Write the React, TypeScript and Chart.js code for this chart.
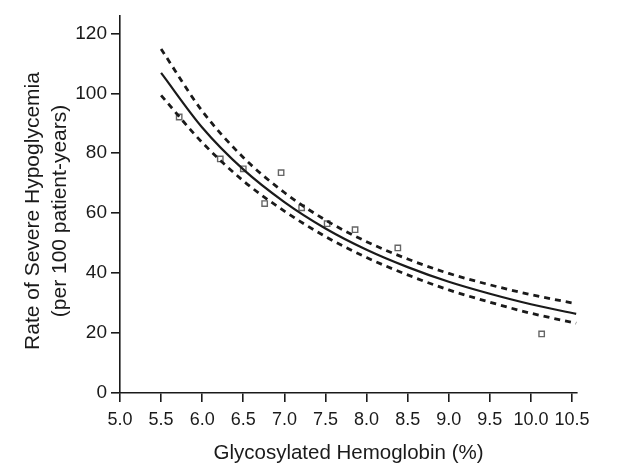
import React, { useEffect, useRef } from "react";
import { Chart, registerables } from "chart.js";

Chart.register(...registerables);

// Fitted curve and 95% confidence band
const curveX = [5.5, 6.0, 6.5, 7.0, 7.5, 8.0, 8.5, 9.0, 9.5, 10.0, 10.55];
const fitY = [106.8, 88.6, 74.6, 63.7, 54.9, 47.8, 42.0, 37.1, 33.1, 29.6, 26.4];
const upperY = [114.8, 94.1, 78.6, 66.9, 57.7, 50.5, 44.7, 39.9, 36.1, 32.8, 29.8];
const lowerY = [99.3, 83.6, 70.8, 60.7, 52.2, 45.2, 39.4, 34.4, 30.3, 26.6, 23.3];

// Observed rates (open squares)
const obsX = [5.72, 6.22, 6.5, 6.96, 6.76, 7.21, 7.52, 7.86, 8.38, 10.13];
const obsY = [92.1, 78.1, 74.8, 73.5, 63.2, 61.8, 56.5, 54.5, 48.4, 19.7];

const xTicks = [5.0, 5.5, 6.0, 6.5, 7.0, 7.5, 8.0, 8.5, 9.0, 9.5, 10.0, 10.5];
const yTicks = [0, 20, 40, 60, 80, 100, 120];

const xTitle = "Glycosylated Hemoglobin (%)";
const yTitle = ["Rate of Severe Hypoglycemia", "(per 100 patient-years)"];

const FONT = "'Liberation Sans', Arial, Helvetica, sans-serif";
const INK = "#1a1a1a";

const pts = (xs: number[], ys: number[]) => xs.map((x, i) => ({ x, y: ys[i] }));

export default function App() {
  const ref = useRef<HTMLCanvasElement | null>(null);

  useEffect(() => {
    if (!ref.current) return;

    const yTitlePlugin = {
      id: "yTitlePlugin",
      afterDraw(chart: any) {
        const ctx = chart.ctx;
        ctx.save();
        ctx.fillStyle = INK;
        ctx.font = `21px ${FONT}`;
        ctx.textAlign = "center";
        ctx.textBaseline = "middle";
        const cy = 211;
        const xs = [33, 60];
        yTitle.forEach((line, i) => {
          ctx.save();
          ctx.translate(xs[i], cy);
          ctx.rotate(-Math.PI / 2);
          ctx.fillText(line, 0, 0);
          ctx.restore();
        });
        ctx.restore();
      },
    };

    const chart = new Chart(ref.current, {
      type: "scatter",
      data: {
        datasets: [
          {
            label: "upper",
            data: pts(curveX, upperY),
            showLine: true,
            borderColor: INK,
            borderWidth: 2.8,
            borderDash: [6, 5],
            pointRadius: 0,
            cubicInterpolationMode: "monotone",
          },
          {
            label: "fit",
            data: pts(curveX, fitY),
            showLine: true,
            borderColor: INK,
            borderWidth: 2.2,
            pointRadius: 0,
            cubicInterpolationMode: "monotone",
          },
          {
            label: "lower",
            data: pts(curveX, lowerY),
            showLine: true,
            borderColor: INK,
            borderWidth: 2.8,
            borderDash: [6, 5],
            pointRadius: 0,
            cubicInterpolationMode: "monotone",
          },
          {
            label: "observed",
            data: pts(obsX, obsY),
            showLine: false,
            pointStyle: "rect",
            pointRadius: 3.8,
            pointBorderWidth: 1.4,
            pointBorderColor: "#666666",
            pointBackgroundColor: "#ffffff",
          },
        ],
      } as any,
      options: {
        responsive: false,
        animation: false,
        devicePixelRatio: 1,
        layout: { padding: { top: 10, right: 64, left: 0, bottom: 0 } },
        plugins: {
          legend: { display: false },
          tooltip: { enabled: false },
        },
        scales: {
          x: {
            type: "linear",
            position: "bottom",
            min: 5,
            max: 10.56,
            afterBuildTicks: (scale: any) => {
              scale.ticks = xTicks.map((v) => ({ value: v }));
            },
            afterFit: (scale: any) => {
              scale.height = 73;
            },
            ticks: {
              font: { family: FONT, size: 18 },
              color: INK,
              padding: 7,
              maxRotation: 0,
              autoSkip: false,
              callback: (v: any) => Number(v).toFixed(1),
            },
            grid: {
              display: true,
              drawOnChartArea: false,
              drawTicks: true,
              tickLength: 9,
              color: INK,
              lineWidth: 1.6,
            },
            border: { display: true, color: INK, width: 1.6 },
            title: {
              display: true,
              text: xTitle,
              color: INK,
              font: { family: FONT, size: 20.5 },
              padding: { top: 0, bottom: 0 },
            },
          },
          y: {
            type: "linear",
            min: 0,
            max: 126,
            afterBuildTicks: (scale: any) => {
              scale.ticks = yTicks.map((v) => ({ value: v }));
            },
            afterFit: (scale: any) => {
              scale.width = 120;
            },
            ticks: {
              font: { family: FONT, size: 19 },
              color: INK,
              padding: 4,
              autoSkip: false,
            },
            grid: {
              display: true,
              drawOnChartArea: false,
              drawTicks: true,
              tickLength: 9,
              color: INK,
              lineWidth: 1.6,
            },
            border: { display: true, color: INK, width: 1.6 },
          },
        },
      } as any,
      plugins: [yTitlePlugin],
    });

    return () => chart.destroy();
  }, []);

  return (
    <div style={{ position: "absolute", left: 0, top: 0, width: 641, height: 466, background: "#fff" }}>
      <canvas ref={ref} width={641} height={466} />
    </div>
  );
}
